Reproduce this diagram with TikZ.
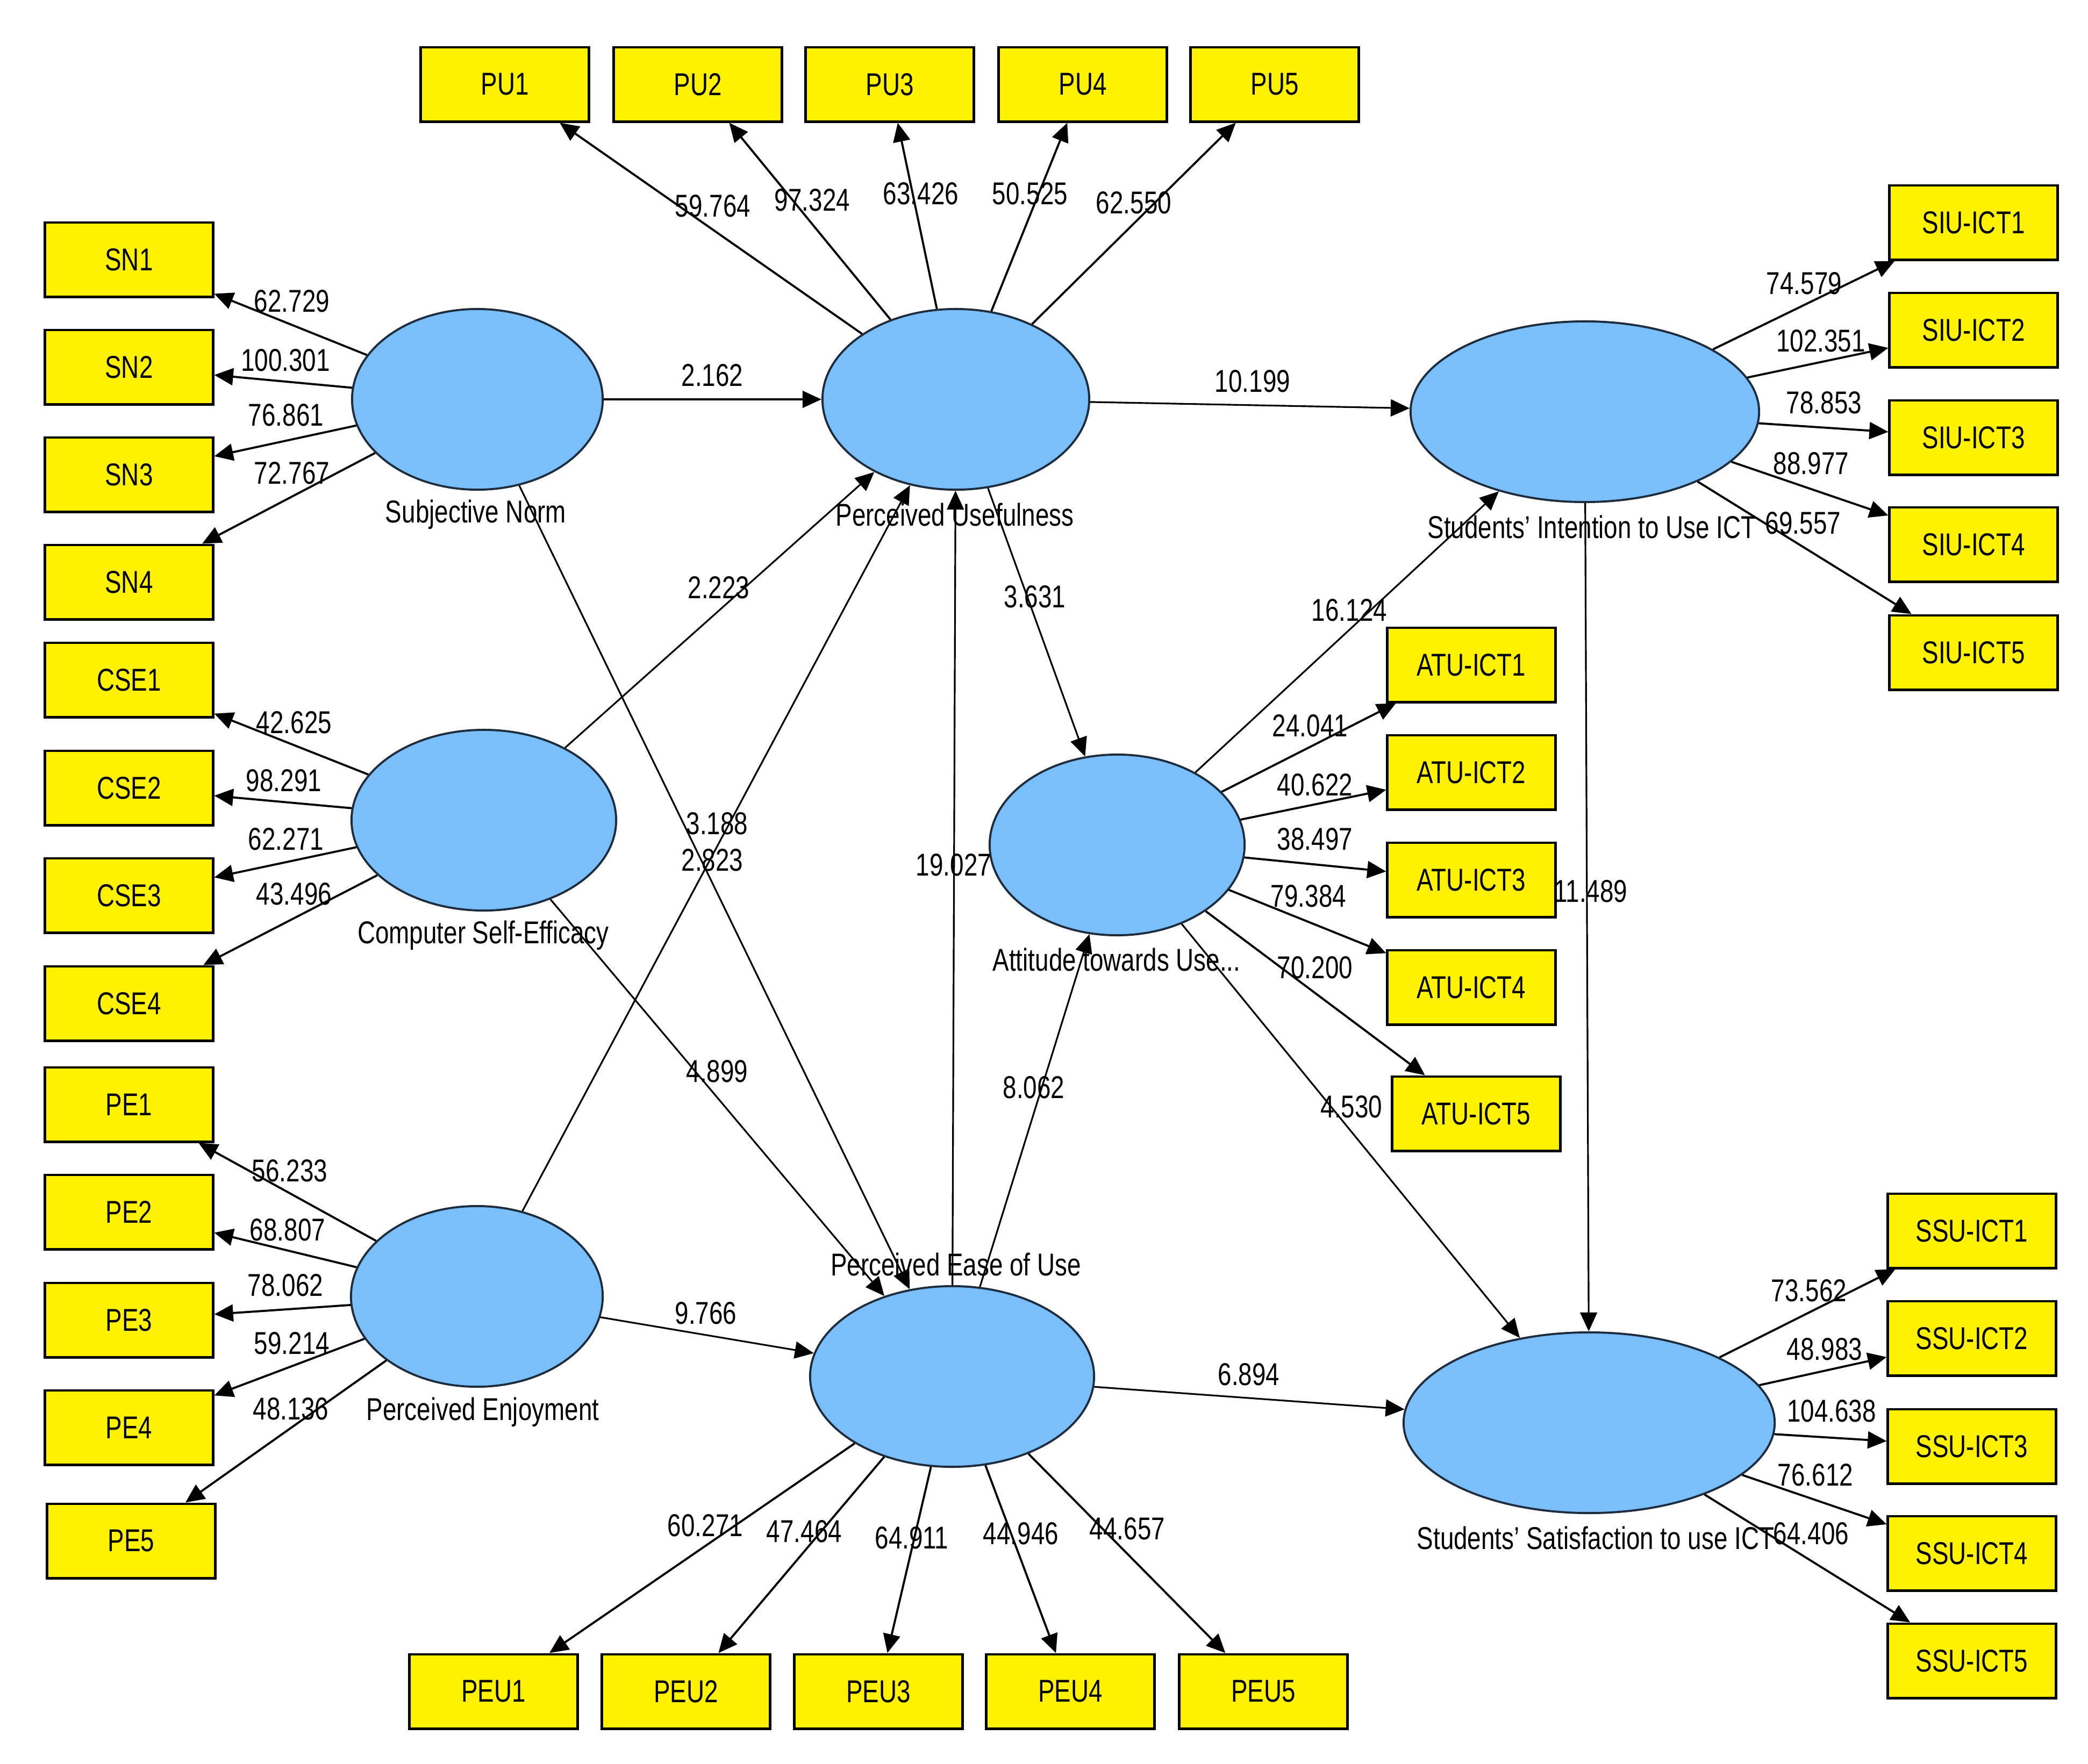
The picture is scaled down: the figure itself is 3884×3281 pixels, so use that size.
\documentclass[tikz,border=0pt]{standalone}
\usepackage{fontspec}
\setmainfont{Liberation Sans}[FakeStretch=0.78]
\usetikzlibrary{shapes.geometric,arrows.meta}
\definecolor{ellblue}{RGB}{122,190,250}
\definecolor{ellline}{RGB}{30,45,62}
\begin{document}
\begin{tikzpicture}[x=0.01cm,y=-0.01cm,
  font=\fontsize{16.7}{20}\selectfont,
  ind/.style={draw, fill=yellow, line width=1.4pt, minimum width=3.12cm, minimum height=1.38cm, inner sep=0pt},
  lat/.style={ellipse, draw=ellline, fill=ellblue, line width=1.1pt, inner sep=0pt, minimum height=3.36cm},
  ld/.style={-{Triangle[length=10pt,width=9pt]}, line width=1.1pt},
  sp/.style={-{Triangle[length=10pt,width=9pt]}, line width=0.9pt},
  val/.style={inner sep=0pt},
  ltcap/.style={inner sep=0pt}]
\fill[white] (0,0) rectangle (3884,3281);
\useasboundingbox (0,0) rectangle (3884,3281);

% latent variables
\node[lat, minimum width=4.66cm] (SN)  at (888,743) {};
\node[lat, minimum width=4.96cm] (PU)  at (1778,743) {};
\node[lat, minimum width=6.48cm] (SIU) at (2948,766) {};
\node[lat, minimum width=4.92cm] (CSE) at (900,1526) {};
\node[lat, minimum width=4.74cm] (ATU) at (2078,1572) {};
\node[lat, minimum width=4.68cm] (PE)  at (887,2412) {};
\node[lat, minimum width=5.28cm] (PEU) at (1771,2561) {};
\node[lat, minimum width=6.90cm] (SSU) at (2956,2647) {};

% captions
\node[ltcap] (cSN)  at (885,957)  {Subjective Norm};
\node[ltcap] (cPU)  at (1776,957) {Perceived Usefulness};
\node[ltcap] (cSIU) at (2961,980) {Students’ Intention to Use ICT};
\node[ltcap] (cCSE) at (899,1740) {Computer Self-Efficacy};
\node[ltcap] (cATU) at (2077,1785) {Attitude towards Use...};
\node[ltcap] (cPE)  at (898,2627) {Perceived Enjoyment};
\node[ltcap] (cPEU) at (1778,2352) {Perceived Ease of Use};
\node[ltcap] (cSSU) at (2968,2861) {Students’ Satisfaction to use ICT};

% indicators
\node[ind] (PU1) at (939,157)  {PU1};
\node[ind] (PU2) at (1298,157) {PU2};
\node[ind] (PU3) at (1655,157) {PU3};
\node[ind] (PU4) at (2014,157) {PU4};
\node[ind] (PU5) at (2371,157) {PU5};

\node[ind] (SN1) at (240,483)  {SN1};
\node[ind] (SN2) at (240,683)  {SN2};
\node[ind] (SN3) at (240,883)  {SN3};
\node[ind] (SN4) at (240,1083) {SN4};

\node[ind] (CSE1) at (240,1265) {CSE1};
\node[ind] (CSE2) at (240,1466) {CSE2};
\node[ind] (CSE3) at (240,1666) {CSE3};
\node[ind] (CSE4) at (240,1867) {CSE4};

\node[ind] (PE1) at (240,2055) {PE1};
\node[ind] (PE2) at (240,2255) {PE2};
\node[ind] (PE3) at (240,2456) {PE3};
\node[ind] (PE4) at (240,2656) {PE4};
\node[ind] (PE5) at (244,2867) {PE5};

\node[ind] (PEU1) at (918,3147)  {PEU1};
\node[ind] (PEU2) at (1276,3147) {PEU2};
\node[ind] (PEU3) at (1634,3147) {PEU3};
\node[ind] (PEU4) at (1991,3147) {PEU4};
\node[ind] (PEU5) at (2350,3147) {PEU5};

\node[ind] (SIU1) at (3671,414)  {SIU-ICT1};
\node[ind] (SIU2) at (3671,614)  {SIU-ICT2};
\node[ind] (SIU3) at (3671,814)  {SIU-ICT3};
\node[ind] (SIU4) at (3671,1013) {SIU-ICT4};
\node[ind] (SIU5) at (3671,1214) {SIU-ICT5};

\node[ind] (ATU1) at (2737,1237) {ATU-ICT1};
\node[ind] (ATU2) at (2737,1437) {ATU-ICT2};
\node[ind] (ATU3) at (2737,1637) {ATU-ICT3};
\node[ind] (ATU4) at (2737,1837) {ATU-ICT4};
\node[ind] (ATU5) at (2746,2072) {ATU-ICT5};

\node[ind] (SSU1) at (3668,2290) {SSU-ICT1};
\node[ind] (SSU2) at (3668,2490) {SSU-ICT2};
\node[ind] (SSU3) at (3668,2691) {SSU-ICT3};
\node[ind] (SSU4) at (3668,2890) {SSU-ICT4};
\node[ind] (SSU5) at (3668,3090) {SSU-ICT5};

% loadings
\foreach \i in {1,...,5} {
  \draw[ld] (PU) -- (PU\i);
  \draw[ld] (PE) -- (PE\i);
  \draw[ld] (PEU) -- (PEU\i);
  \draw[ld] (SIU) -- (SIU\i);
  \draw[ld] (ATU) -- (ATU\i);
  \draw[ld] (SSU) -- (SSU\i);
}
\foreach \i in {1,...,4} {
  \draw[ld] (SN) -- (SN\i);
  \draw[ld] (CSE) -- (CSE\i);
}

% structural paths
\draw[sp] (SN) -- (PU);
\draw[sp] (PU) -- (SIU);
\draw[sp] (CSE) -- (PU);
\draw[sp] (PE) -- (PU);
\draw[sp] (PEU) -- (PU);
\draw[sp] (PU) -- (ATU);
\draw[sp] (ATU) -- (SIU);
\draw[sp] (ATU) -- (SSU);
\draw[sp] (SIU) -- (SSU);
\draw[sp] (SN) -- (PEU);
\draw[sp] (CSE) -- (PEU);
\draw[sp] (PE) -- (PEU);
\draw[sp] (PEU) -- (ATU);
\draw[sp] (PEU) -- (SSU);

% loading values
\node[val] (vPU1) at (1326,383) {59.764};
\node[val] (vPU2) at (1511,372) {97.324};
\node[val] (vPU3) at (1713,360) {63.426};
\node[val] (vPU4) at (1916,360) {50.525};
\node[val] (vPU5) at (2109,377) {62.550};

\node[val] (vSN1) at (543,560) {62.729};
\node[val] (vSN2) at (531,670) {100.301};
\node[val] (vSN3) at (532,772) {76.861};
\node[val] (vSN4) at (543,880) {72.767};

\node[val] (vCSE1) at (547,1344) {42.625};
\node[val] (vCSE2) at (528,1452) {98.291};
\node[val] (vCSE3) at (532,1561) {62.271};
\node[val] (vCSE4) at (547,1663) {43.496};

\node[val] (vPE1) at (539,2178) {56.233};
\node[val] (vPE2) at (535,2288) {68.807};
\node[val] (vPE3) at (531,2391) {78.062};
\node[val] (vPE4) at (543,2499) {59.214};
\node[val] (vPE5) at (541,2621) {48.136};

\node[val] (vPEU1) at (1312,2838) {60.271};
\node[val] (vPEU2) at (1496,2849) {47.464};
\node[val] (vPEU3) at (1696,2861) {64.911};
\node[val] (vPEU4) at (1899,2853) {44.946};
\node[val] (vPEU5) at (2097,2844) {44.657};

\node[val] (vSIU1) at (3356,527) {74.579};
\node[val] (vSIU2) at (3387,634) {102.351};
\node[val] (vSIU3) at (3393,749) {78.853};
\node[val] (vSIU4) at (3369,862) {88.977};
\node[val] (vSIU5) at (3354,973) {69.557};

\node[val] (vATU1) at (2437,1350) {24.041};
\node[val] (vATU2) at (2446,1460) {40.622};
\node[val] (vATU3) at (2446,1561) {38.497};
\node[val] (vATU4) at (2434,1667) {79.384};
\node[val] (vATU5) at (2446,1800) {70.200};

\node[val] (vSSU1) at (3365,2401) {73.562};
\node[val] (vSSU2) at (3394,2510) {48.983};
\node[val] (vSSU3) at (3407,2625) {104.638};
\node[val] (vSSU4) at (3377,2744) {76.612};
\node[val] (vSSU5) at (3369,2853) {64.406};

% path values
\node[val] (p1)  at (1325,698)  {2.162};
\node[val] (p2)  at (2330,709)  {10.199};
\node[val] (p3)  at (1337,1093) {2.223};
\node[val] (p4)  at (1925,1110) {3.631};
\node[val] (p5)  at (2510,1135) {16.124};
\node[val] (p6)  at (1334,1532) {3.188};
\node[val] (p7)  at (1325,1600) {2.823};
\node[val] (p8)  at (1774,1609) {19.027};
\node[val] (p9)  at (2959,1658) {11.489};
\node[val] (p10) at (1334,1993) {4.899};
\node[val] (p11) at (1923,2023) {8.062};
\node[val] (p12) at (2514,2059) {4.530};
\node[val] (p13) at (1313,2443) {9.766};
\node[val] (p14) at (2323,2557) {6.894};
\end{tikzpicture}
\end{document}
